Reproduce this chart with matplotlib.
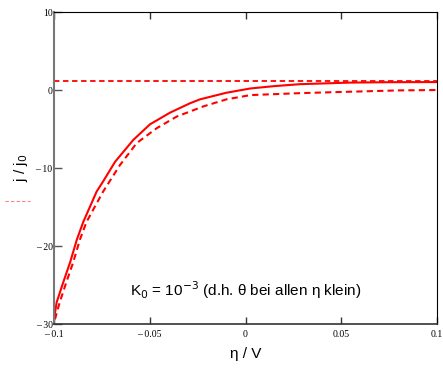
import matplotlib
matplotlib.use("Agg")
import matplotlib.pyplot as plt
from matplotlib.lines import Line2D

# overpotential eta / V and normalised current density j / j0
eta_solid = [-0.1, -0.0986, -0.0951, -0.0916, -0.0881, -0.0847, -0.0777, -0.0743,
             -0.0681, -0.0586, -0.0499, -0.0394, -0.029, -0.0238, -0.01, 0.0026,
             0.015, 0.0285, 0.0546, 0.075, 0.1]
j_solid = [-29.4, -27.2, -24.6, -22.1, -19.2, -16.9, -13.0, -11.7,
           -9.2, -6.4, -4.4, -2.9, -1.7, -1.2, -0.35, 0.2,
           0.5, 0.75, 0.95, 1.0, 1.02]

eta_dash = [-0.0995, -0.097, -0.0935, -0.09, -0.0865, -0.083, -0.0743, -0.0655,
            -0.0568, -0.0464, -0.0359, -0.022, -0.01, 0.0026, 0.0285, 0.05,
            0.08, 0.1]
j_dash = [-29.4, -27.2, -24.6, -22.1, -19.2, -16.9, -13.0, -9.6,
          -6.8, -4.9, -3.4, -2.1, -1.2, -0.65, -0.4, -0.25,
          -0.05, 0.0]

j_limit = 1.1

xticks = [-0.1, -0.05, 0, 0.05, 0.1]
xlabels = ["\u2013 0.1", "\u2013 0.05", "0", "0.05", "0.1"]
yticks = [-30, -20, -10, 0, 10]
ylabels = ["\u2013 30", "\u2013 20", "\u2013 10", "0", "10"]

fig = plt.figure(figsize=(4.43, 3.72), dpi=100)
ax = fig.add_axes([0.1219, 0.129, 0.8646, 0.8387])

red = "#ff0000"
ax.axhline(j_limit, color=red, lw=1.3, ls=(0, (3, 2)))
ax.plot(eta_solid, j_solid, color=red, lw=1.5, solid_joinstyle="round")
ax.plot(eta_dash, j_dash, color=red, lw=1.5, ls=(0, (3, 2)))

ax.set_xlim(-0.1, 0.1)
ax.set_ylim(-30, 10)
ax.set_xticks(xticks)
ax.set_xticklabels(xlabels, family="Liberation Serif", fontsize=7)
ax.set_yticks(yticks)
ax.set_yticklabels(ylabels, family="Liberation Serif", fontsize=7)
ax.tick_params(axis="x", direction="in", length=5, width=1, top=True, pad=4, colors="#333333")
ax.tick_params(axis="y", direction="in", length=6, width=1, pad=1, colors="#555555")
for lab in ax.get_xticklabels() + ax.get_yticklabels():
    lab.set_color("black")

ax.spines["left"].set_color("#777777")
ax.spines["left"].set_linewidth(1.5)
ax.spines["bottom"].set_color("#333333")
ax.spines["bottom"].set_linewidth(1.2)
ax.spines["top"].set_color("black")
ax.spines["right"].set_color("black")

ax.set_xlabel("\u03b7 / V", family="Liberation Sans", fontsize=11, labelpad=6)
ax.set_ylabel("j / j$_0$", family="Liberation Sans", fontsize=11, labelpad=4)

ax.text(0.5, 0.11, "K$_0$ = 10$^{-3}$ (d.h. \u03b8 bei allen \u03b7 klein)",
        transform=ax.transAxes, ha="center", va="center",
        family="Liberation Sans", fontsize=11)

# stray legend sample at the left edge
fig.add_artist(Line2D([0.012, 0.068], [0.46, 0.46], color="#ff8080", lw=0.8,
                      ls=(0, (3, 2)), transform=fig.transFigure))

fig.savefig("out.png", dpi=100)
